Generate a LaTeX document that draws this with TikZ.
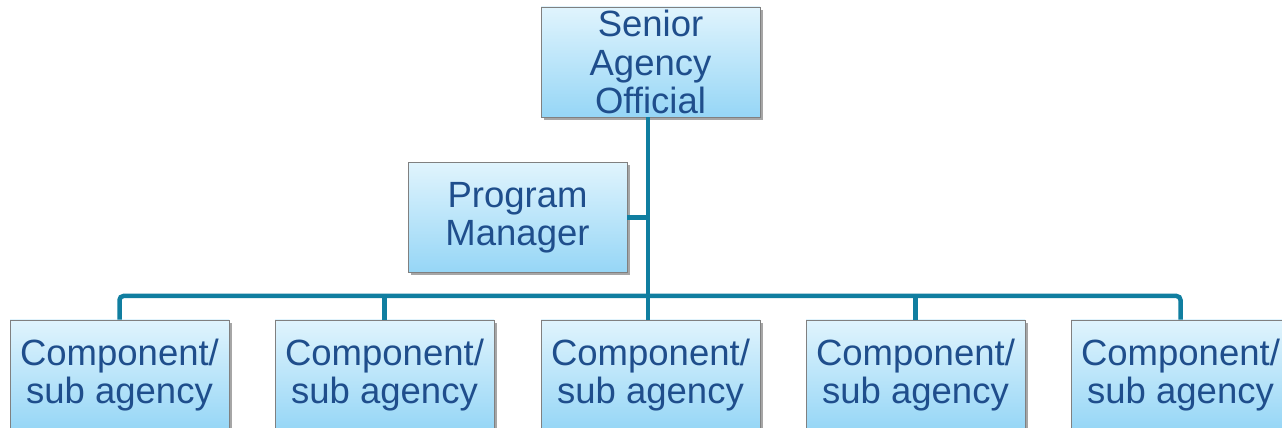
\documentclass[tikz,border=0pt]{standalone}
\usepackage{fontspec}
\setmainfont{Liberation Sans}
\usetikzlibrary{shadows}
\definecolor{conncol}{RGB}{16,126,160}
\definecolor{txtcol}{RGB}{31,78,140}
\definecolor{boxtop}{RGB}{224,244,253}
\definecolor{boxbot}{RGB}{150,214,246}
\definecolor{boxline}{RGB}{128,128,128}
\tikzset{
  orgbox/.style={draw=boxline, line width=0.8pt, top color=boxtop, bottom color=boxbot,
    minimum width=219pt, minimum height=110pt, inner sep=0pt, align=center,
    text=txtcol, font=\fontsize{36.5}{38.5}\selectfont,
    drop shadow={shadow xshift=3pt, shadow yshift=-3pt, fill=black, opacity=0.35}},
  conn/.style={draw=conncol, line width=4.5pt}
}
\begin{document}
\begin{tikzpicture}[x=1pt,y=1pt]
\useasboundingbox (0,0) rectangle (1282,428);
\clip (0,0) rectangle (1282,428);
\node[orgbox] (sao) at (650.5,366) {Senior\\Agency\\Official};
\node[orgbox] (pm) at (517.5,210.5) {Program\\Manager};
\node[orgbox] (c1) at (119.5,53) {Component/\\sub agency};
\node[orgbox] (c2) at (384.5,53) {Component/\\sub agency};
\node[orgbox] (c3) at (650.5,53) {Component/\\sub agency};
\node[orgbox] (c4) at (915.5,53) {Component/\\sub agency};
\node[orgbox] (c5) at (1180.5,53) {Component/\\sub agency};
\coordinate (bus) at (648,132);
\draw[conn] ([xshift=-2.5pt]sao.south) -- ([xshift=-2.5pt]sao.south |- bus);
\draw[conn] (pm.east) -- (pm.east -| bus);
\draw[conn, rounded corners=4pt] (c1.north) -- (c1.north |- bus) -- (c5.north |- bus) -- (c5.north);
\draw[conn] (c2.north) -- (c2.north |- bus);
\draw[conn] ([xshift=-2.5pt]c3.north) -- ([xshift=-2.5pt]c3.north |- bus);
\draw[conn] (c4.north) -- (c4.north |- bus);
\end{tikzpicture}
\end{document}
